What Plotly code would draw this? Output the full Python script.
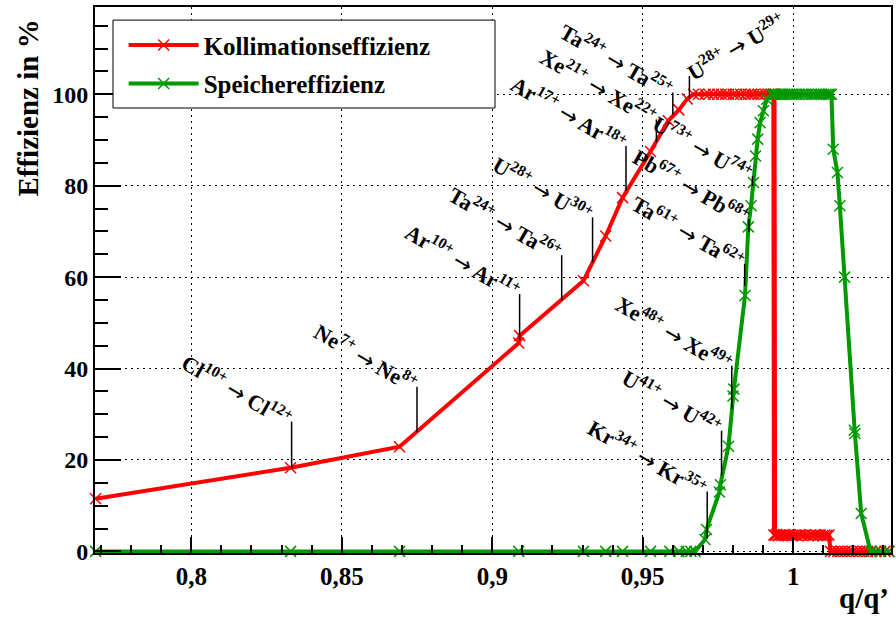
import plotly.graph_objects as go

# --- measured efficiencies versus charge ratio q/q' ---
coll_q = [0.7682, 0.8330, 0.8692, 0.9088, 0.9091, 0.9303, 0.9377, 0.9433, 0.9526,
          0.9585, 0.9620, 0.9648, 0.9669, 0.9685, 0.9708, 0.9720, 0.9735, 0.9750,
          0.9762, 0.9775, 0.9785, 0.9801, 0.9812, 0.9825, 0.9840, 0.9851, 0.9861,
          0.9870, 0.9884, 0.9895, 0.9907, 0.9918, 0.9927, 0.9934,
          0.9936, 0.9938, 0.9940,
          0.9945, 0.9950, 0.9956, 0.9962, 0.9968, 0.9975, 0.9982, 0.9990,
          0.9998, 1.0005, 1.0013, 1.0022, 1.0030, 1.0040, 1.0050, 1.0058, 1.0066,
          1.0074, 1.0082, 1.0090, 1.0098, 1.0105, 1.0112, 1.0119,
          1.0124, 1.0135, 1.0148, 1.0160, 1.0172, 1.0185, 1.0197, 1.0210, 1.0222,
          1.0235, 1.0247, 1.0260, 1.0275, 1.0290, 1.0305, 1.0318]
coll_eff = [11.5, 18.3, 22.9, 45.6, 47.2, 59.2, 69.0, 77.4, 87.5,
            94.2, 96.6, 99.0, 100, 100, 100, 100, 100, 100,
            100, 100, 100, 100, 100, 100, 100, 100, 100,
            100, 100, 100, 100, 100, 100, 100,
            3.6, 100, 3.5,
            3.7, 3.4, 3.6, 3.5, 3.7, 3.5, 3.6, 3.6,
            3.4, 3.6, 3.5, 3.7, 3.5, 3.6, 3.4, 3.6, 3.5,
            3.7, 3.5, 3.6, 3.4, 3.6, 3.5, 3.6,
            0, 0, 0, 0, 0, 0, 0, 0, 0,
            0, 0, 0, 0, 0, 0, 0]

stor_q = [0.7682, 0.8330, 0.8692, 0.9088, 0.9303, 0.9377, 0.9433, 0.9526, 0.9590,
          0.9620, 0.9645, 0.9660, 0.9674, 0.9707, 0.9712, 0.9755, 0.9758, 0.9785,
          0.9800, 0.9803, 0.9840, 0.9851, 0.9860, 0.9868, 0.9875, 0.9882, 0.9890,
          0.9901, 0.9912, 0.9928,
          0.9935, 0.9942, 0.9950, 0.9957, 0.9965, 0.9972, 0.9980, 0.9988, 0.9995,
          1.0003, 1.0012, 1.0020, 1.0030, 1.0040, 1.0050, 1.0060, 1.0068, 1.0076,
          1.0085, 1.0093, 1.0101, 1.0109, 1.0116, 1.0122, 1.0127,
          1.0133, 1.0147, 1.0155, 1.0171, 1.0203, 1.0205, 1.0226, 1.0257, 1.0290,
          1.0318]
stor_eff = [0, 0, 0, 0, 0, 0, 0, 0, 0,
            0, 0, 0, 0, 2.6, 4.8, 13.0, 14.6, 23.0,
            34.0, 35.5, 56.0, 71.0, 75.6, 80.7, 86.5, 90.2, 93.8,
            96.4, 98.9, 100,
            100, 100, 100, 100, 100, 100, 100, 100, 100,
            100, 100, 100, 100, 100, 100, 100, 100, 100,
            100, 100, 100, 100, 100, 100, 100,
            88.0, 82.9, 75.6, 60.0, 26.5, 25.8, 8.3, 0, 0,
            0]

# ion transitions q -> q' and the extent of their marker lines (in %)
ion_elem = ["Cl", "Ne", "Ar", "Ta", "U", "Ar", "Xe", "Ta", "U",
            "Kr", "U", "Xe", "Ta", "Pb", "U"]
ion_q = [10, 7, 10, 24, 28, 17, 21, 24, 28, 34, 41, 48, 61, 67, 73]
ion_qp = [12, 8, 11, 26, 30, 18, 22, 25, 29, 35, 42, 49, 62, 68, 74]
ion_lo = [18.3, 26.2, 46.3, 54.8, 63.3, 78.9, 89.5, 95.6, 99.1,
          2.8, 16.6, 31.2, 58.1, 69.9, 79.9]
ion_hi = [28.4, 36.0, 56.3, 64.8, 73.1, 88.7, 94.5, 100.4, 104.0,
          13.1, 26.4, 40.6, 62.9, 72.7, 82.1]

x_ticks = [0.8, 0.85, 0.9, 0.95, 1.0]
x_ticktext = ["0,8", "0,85", "0,9", "0,95", "1"]
y_ticks = [0, 20, 40, 60, 80, 100]

RED = "#ff0000"
GREEN = "#009900"
FONT = "Liberation Serif, Times New Roman, serif"
ARROW = '<span style="font-family:DejaVu Sans; font-size:22px; font-weight:normal">→</span>'
GRID_DASH = "2px,4px"

fig = go.Figure()
fig.add_trace(go.Scatter(
    x=coll_q, y=coll_eff, mode="lines+markers", name="Kollimationseffizienz",
    legendgroup="a", cliponaxis=False,
    line=dict(color=RED, width=4),
    marker=dict(symbol="x-thin", size=11, line=dict(color=RED, width=1.5)),
))
fig.add_trace(go.Scatter(
    x=stor_q, y=stor_eff, mode="lines+markers", name="Speichereffizienz",
    legendgroup="b", cliponaxis=False,
    line=dict(color=GREEN, width=4),
    marker=dict(symbol="x-thin", size=11, line=dict(color=GREEN, width=1.5)),
))

# legend frame (opaque box behind the legend entries)
shapes = [dict(type="rect", xref="paper", yref="paper",
               x0=0.0226, x1=0.5025, y0=0.815, y1=0.976, layer="above",
               fillcolor="white", line=dict(color="black", width=1))]
annotations = []
for el, q, qp, lo, hi in zip(ion_elem, ion_q, ion_qp, ion_lo, ion_hi):
    r = q / qp
    shapes.append(dict(type="line", xref="x", yref="y", x0=r, x1=r, y0=lo, y1=hi,
                       line=dict(color="black", width=1.5)))
    text = f"{el}<sup>{q}+</sup> {ARROW} {el}<sup>{qp}+</sup>"
    if (el, q, qp) == ("U", 28, 29):
        annotations.append(dict(x=r, y=hi, xref="x", yref="y", text=text,
                                showarrow=False, textangle=-30,
                                xanchor="left", yanchor="bottom", xshift=-11, yshift=-12,
                                font=dict(family=FONT, size=22, color="black", weight="bold")))
    else:
        annotations.append(dict(x=r, y=hi, xref="x", yref="y", text=text,
                                showarrow=False, textangle=30,
                                xanchor="right", yanchor="bottom", xshift=8, yshift=-14,
                                font=dict(family=FONT, size=22, color="black", weight="bold")))

annotations.append(dict(x=-0.084, y=0.98, xref="paper", yref="paper",
                        text="Effizienz in %", textangle=-90, showarrow=False,
                        xanchor="center", yanchor="top",
                        font=dict(family=FONT, size=29, color="black", weight="bold")))
annotations.append(dict(x=1.0, y=-0.082, xref="paper", yref="paper",
                        text="q/q’", showarrow=False, xanchor="right", yanchor="middle",
                        font=dict(family=FONT, size=29, color="black", weight="bold")))

fig.update_layout(
    width=896, height=619,
    margin=dict(l=95, r=3, t=7, b=66),
    paper_bgcolor="white", plot_bgcolor="white",
    shapes=shapes, annotations=annotations,
    showlegend=True,
    legend=dict(x=0.036, y=0.972, xanchor="left", yanchor="top",
                bgcolor="rgba(0,0,0,0)", borderwidth=0,
                font=dict(family=FONT, size=25, color="black", weight="bold"),
                itemwidth=70, tracegroupgap=3),
    font=dict(family=FONT, color="black"),
)
fig.update_xaxes(
    range=[0.7680, 1.0325], showline=True, linecolor="black", linewidth=2, mirror=True,
    tickmode="array", tickvals=x_ticks, ticktext=x_ticktext,
    ticks="inside", ticklen=16, tickwidth=1.5, tickcolor="black",
    tickfont=dict(family=FONT, size=25, color="black", weight="bold"),
    showgrid=True, gridcolor="black", griddash=GRID_DASH, gridwidth=1, zeroline=False,
    minor=dict(tickmode="linear", tick0=0.8, dtick=0.01, ticks="inside", ticklen=8,
               tickwidth=1.5, tickcolor="black", showgrid=False),
)
fig.update_yaxes(
    range=[-0.35, 119.1], showline=True, linecolor="black", linewidth=2, mirror=True,
    tickmode="array", tickvals=y_ticks,
    ticks="inside", ticklen=26, tickwidth=1.5, tickcolor="black",
    tickfont=dict(family=FONT, size=24, color="black", weight="bold"),
    showgrid=True, gridcolor="black", griddash=GRID_DASH, gridwidth=1, zeroline=False,
    minor=dict(tickmode="linear", tick0=0, dtick=5, ticks="inside", ticklen=13,
               tickwidth=1.5, tickcolor="black", showgrid=False),
)

fig.write_html("out.html")
